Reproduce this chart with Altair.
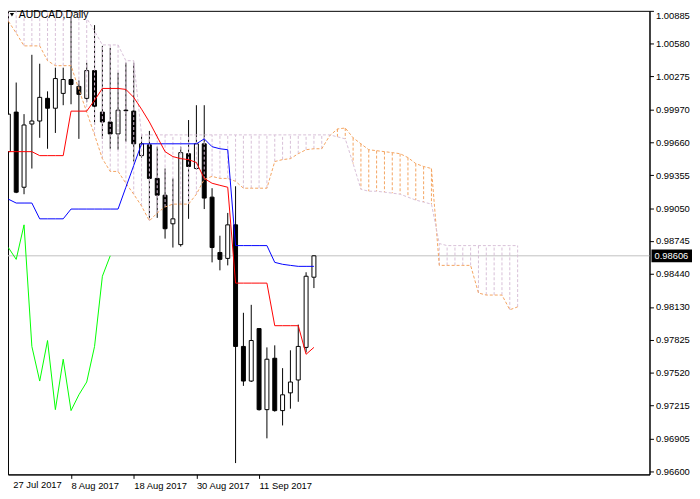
import altair as alt
import pandas as pd

# ---------------- data (AUDCAD daily, index 0 = 27 Jul 2017) ----------------
opens = [0.99575, 0.99943, 0.99244, 0.99832, 0.99860, 1.00071, 0.99979, 1.00117, 1.00246, 1.00182,
         1.00071, 1.00329, 0.99943, 0.99851, 0.99740, 0.99961, 0.99952, 0.99538, 0.99639, 0.99326,
         0.99170, 0.98904, 0.98710, 0.99556, 0.99418, 0.99648, 0.99152, 0.98637, 0.98582, 0.98894,
         0.97763, 0.97441, 0.97929, 0.97175, 0.97653, 0.97166, 0.97331, 0.97451, 0.97754, 0.98407]
highs = [1.00191, 1.00218, 0.99924, 1.00476, 1.00393, 1.00136, 1.00356, 1.00356, 1.00825, 1.00237,
         1.00402, 1.00752, 1.00559, 1.00540, 1.00310, 1.00402, 1.00402, 0.99731, 0.99768, 0.99621,
         0.99418, 0.99326, 0.99621, 0.99869, 1.00007, 1.00007, 0.99235, 0.98793, 0.99005, 0.99253,
         0.98076, 0.98150, 0.97929, 0.97754, 0.97773, 0.97561, 0.97727, 0.97966, 0.98453, 0.98612]
lows = [0.99570, 0.99189, 0.99179, 0.99418, 0.99704, 0.99602, 0.99749, 1.00007, 1.00016, 0.99694,
        1.00035, 0.99823, 0.99694, 0.99602, 0.99593, 0.99667, 0.99483, 0.99520, 0.98959, 0.98959,
        0.98766, 0.98683, 0.98692, 0.98950, 0.99409, 0.99041, 0.98545, 0.98471, 0.98517, 0.96678,
        0.97396, 0.97432, 0.97166, 0.96908, 0.97156, 0.97028, 0.97184, 0.97248, 0.97708, 0.98306]
closes = [0.99924, 0.99198, 0.99823, 0.99860, 1.00080, 0.99979, 1.00255, 1.00246, 1.00200, 1.00108,
          1.00329, 0.99998, 0.99851, 0.99740, 0.99961, 0.99956, 0.99648, 0.99648, 0.99326, 0.99170,
          0.98858, 0.98950, 0.99566, 0.99437, 0.99648, 0.99143, 0.98683, 0.98573, 0.98894, 0.97763,
          0.97441, 0.97818, 0.97175, 0.97644, 0.97166, 0.97313, 0.97432, 0.97763, 0.98416, 0.98606]

tenkan = [0.99575, 0.99575, 0.99575, 0.99575, 0.99538, 0.99538, 0.99538, 0.99538, 0.99952, 0.99952,
          0.99952, 1.00053, 1.00163, 1.00163, 1.00163, 1.00154, 1.00080, 0.99970, 0.99851, 0.99713,
          0.99575, 0.99529, 0.99510, 0.99501, 0.99474, 0.99326, 0.99281, 0.99262, 0.99244, 0.98352,
          0.98352, 0.98352, 0.98352, 0.98352, 0.97956, 0.97956, 0.97956, 0.97956, 0.97690, 0.97754]
kijun = [0.99133, 0.99097, 0.99097, 0.99097, 0.98950, 0.98950, 0.98950, 0.98950, 0.99041, 0.99041,
         0.99041, 0.99041, 0.99041, 0.99041, 0.99041, 0.99244, 0.99446, 0.99648, 0.99648, 0.99648,
         0.99648, 0.99648, 0.99648, 0.99648, 0.99648, 0.99694, 0.99621, 0.99602, 0.99593, 0.98701,
         0.98701, 0.98701, 0.98701, 0.98701, 0.98545, 0.98527, 0.98517, 0.98508, 0.98508, 0.98508]

# Senkou spans (already shifted 26 bars ahead: index 0..65)
span_a = [1.00788, 1.00678, 1.00559, 1.00559, 1.00559, 1.00421, 1.00375, 1.00375, 1.00375, 1.00154,
          0.99943, 0.99731, 0.99510, 0.99391, 0.99391, 0.99281, 0.99179, 0.99069, 0.98931, 0.99005,
          0.99060, 0.99087, 0.99087, 0.99087, 0.99179, 0.99317, 0.99345, 0.99326, 0.99326, 0.99299,
          0.99235, 0.99235, 0.99235, 0.99235, 0.99483, 0.99501, 0.99510, 0.99556, 0.99593, 0.99602,
          0.99602, 0.99722, 0.99786, 0.99795, 0.99704, 0.99648, 0.99593, 0.99584, 0.99575, 0.99566,
          0.99556, 0.99520, 0.99464, 0.99437, 0.99418, 0.98517, 0.98517, 0.98517, 0.98517, 0.98517,
          0.98260, 0.98241, 0.98241, 0.98241, 0.98104, 0.98131]
span_b = [1.01046, 1.01046, 1.01046, 1.01046, 1.01046, 1.01046, 1.01046, 1.01046, 1.01046, 1.00954,
          1.00816, 1.00697, 1.00568, 1.00568, 1.00568, 1.00421, 1.00421, 0.99731, 0.99731, 0.99731,
          0.99731, 0.99731, 0.99731, 0.99731, 0.99731, 0.99731, 0.99731, 0.99731, 0.99731, 0.99731,
          0.99731, 0.99731, 0.99731, 0.99731, 0.99731, 0.99731, 0.99731, 0.99731, 0.99731, 0.99731,
          0.99731, 0.99731, 0.99713, 0.99694, 0.99464, 0.99225, 0.99207, 0.99207, 0.99198, 0.99189,
          0.99179, 0.99152, 0.99124, 0.99106, 0.99087, 0.98720, 0.98701, 0.98701, 0.98701, 0.98701,
          0.98701, 0.98701, 0.98701, 0.98701, 0.98701, 0.98701]

chikou_lag = 26
ytick_values = [1.00885, 1.00580, 1.00275, 0.99970, 0.99660, 0.99355, 0.99050, 0.98745,
                0.98440, 0.98130, 0.97825, 0.97520, 0.97215, 0.96905, 0.96600]
xtick_idx = [0, 8, 16, 24, 32]
xtick_labels = ["27 Jul 2017", "8 Aug 2017", "18 Aug 2017", "30 Aug 2017", "11 Sep 2017"]
last_price = 0.98606
symbol_title = "AUDCAD,Daily"

# ---------------- tables ----------------
n = len(closes)
idx = list(range(n))
candles = pd.DataFrame({"i": idx, "open": opens, "high": highs, "low": lows, "close": closes})
candles["fill"] = ["#ffffff" if c >= o else "#000000" for o, c in zip(opens, closes)]
lines_df = pd.DataFrame({"i": idx, "tenkan": tenkan, "kijun": kijun})
chikou_df = pd.DataFrame({"i": idx[: n - chikou_lag], "chikou": closes[chikou_lag:]})
cloud = pd.DataFrame({"i": list(range(len(span_a))), "a": span_a, "b": span_b})
cloud["col"] = ["#F4A460" if a > b else "#D8BFD8" for a, b in zip(span_a, span_b)]
price_df = pd.DataFrame({"p": [last_price]})
first_lab = pd.DataFrame({"i": [xtick_idx[0]], "t": [xtick_labels[0]]})
title_df = pd.DataFrame({"t": [symbol_title]})

# ---------------- layout / style ----------------
W, H = 649, 469
FONT = "Liberation Sans"
FS = 9.5
SANDY = "#F4A460"
THISTLE = "#D8BFD8"

xscale = alt.Scale(domain=[0.584, 81.2], nice=False, zero=False)
yscale = alt.Scale(domain=[0.965724, 1.00885], nice=False, zero=False)

label_expr = " : ".join(
    f"datum.value == {i} ? '{t}'" for i, t in zip(xtick_idx[1:], xtick_labels[1:])
) + " : ''"
xaxis = alt.Axis(values=xtick_idx[1:], labelExpr=label_expr, orient="bottom", grid=False,
                 tickSize=4, tickColor="black", domainColor="black", labelAlign="left",
                 labelPadding=2, labelFont=FONT, labelFontSize=FS, labelColor="black",
                 title=None, labelFlush=False, labelOverlap=False)
yaxis = alt.Axis(values=ytick_values, format=".5f", orient="right", grid=False,
                 tickSize=4, tickColor="black", domainColor="black", labelPadding=2,
                 labelFont=FONT, labelFontSize=FS, labelColor="black", title=None,
                 labelFlush=True, labelOverlap=False)

X = alt.X("i:Q", scale=xscale, axis=xaxis)


def Y(f):
    return alt.Y(f, type="quantitative", scale=yscale, axis=yaxis)


price_line = alt.Chart(price_df).mark_rule(color="#c0c0c0", strokeWidth=1).encode(y=Y("p"))

wicks = alt.Chart(candles).mark_rule(color="black", strokeWidth=1, clip=True).encode(
    x=X, y=Y("low"), y2="high")
bodies = alt.Chart(candles).mark_bar(size=4, stroke="black", strokeWidth=1, clip=True).encode(
    x=X, y=Y("open"), y2="close", fill=alt.Fill("fill:N", scale=None))

hatch = alt.Chart(cloud).mark_rule(strokeDash=[3, 2], strokeWidth=1, clip=True).encode(
    x=X, y=Y("a"), y2="b", color=alt.Color("col:N", scale=None))
span_a_line = alt.Chart(cloud).mark_line(color=SANDY, strokeDash=[3, 2], strokeWidth=1, clip=True).encode(
    x=X, y=Y("a"))
span_b_line = alt.Chart(cloud).mark_line(color=THISTLE, strokeDash=[3, 2], strokeWidth=1, clip=True).encode(
    x=X, y=Y("b"))

chikou_line = alt.Chart(chikou_df).mark_line(color="#00ff00", strokeWidth=1, clip=True).encode(
    x=X, y=Y("chikou"))
kijun_line = alt.Chart(lines_df).mark_line(color="#0000ff", strokeWidth=1, clip=True).encode(
    x=X, y=Y("kijun"))
tenkan_line = alt.Chart(lines_df).mark_line(color="#ff0000", strokeWidth=1, clip=True).encode(
    x=X, y=Y("tenkan"))

price_box = alt.Chart(price_df).mark_rule(color="black", strokeWidth=13, strokeCap="butt").encode(
    y=Y("p"), x=alt.value(W + 2), x2=alt.value(W + 43))
price_txt = alt.Chart(price_df).mark_text(color="white", align="left", baseline="middle",
                                           font=FONT, fontSize=FS).encode(
    y=Y("p"), x=alt.value(W + 5), text=alt.Text("p:Q", format=".5f"))

first_label = alt.Chart(first_lab).mark_text(align="left", baseline="top", font=FONT, fontSize=FS,
                                             color="black", dx=5).encode(
    x=X, y=alt.value(H + 6), text="t:N")

title_txt = alt.Chart(title_df).mark_text(align="left", baseline="middle", font=FONT, fontSize=10.5,
                                          color="black").encode(
    x=alt.value(11), y=alt.value(4), text="t:N")
title_tri = alt.Chart(title_df).mark_point(shape="triangle-down", filled=True, color="black",
                                           size=18, opacity=1).encode(
    x=alt.value(4), y=alt.value(4))

chart = alt.layer(
    price_line, wicks, bodies, hatch, span_a_line, span_b_line,
    chikou_line, kijun_line, tenkan_line, price_box, price_txt, first_label,
    title_tri, title_txt,
).properties(
    width=W, height=H,
    autosize=alt.AutoSizeParams(type="none"),
    padding={"left": 0, "top": 0, "right": 43, "bottom": 22},
    background="white",
).configure_view(stroke="black", strokeWidth=1)

chart.save("out.html", embed_options={"renderer": "svg", "actions": False})
